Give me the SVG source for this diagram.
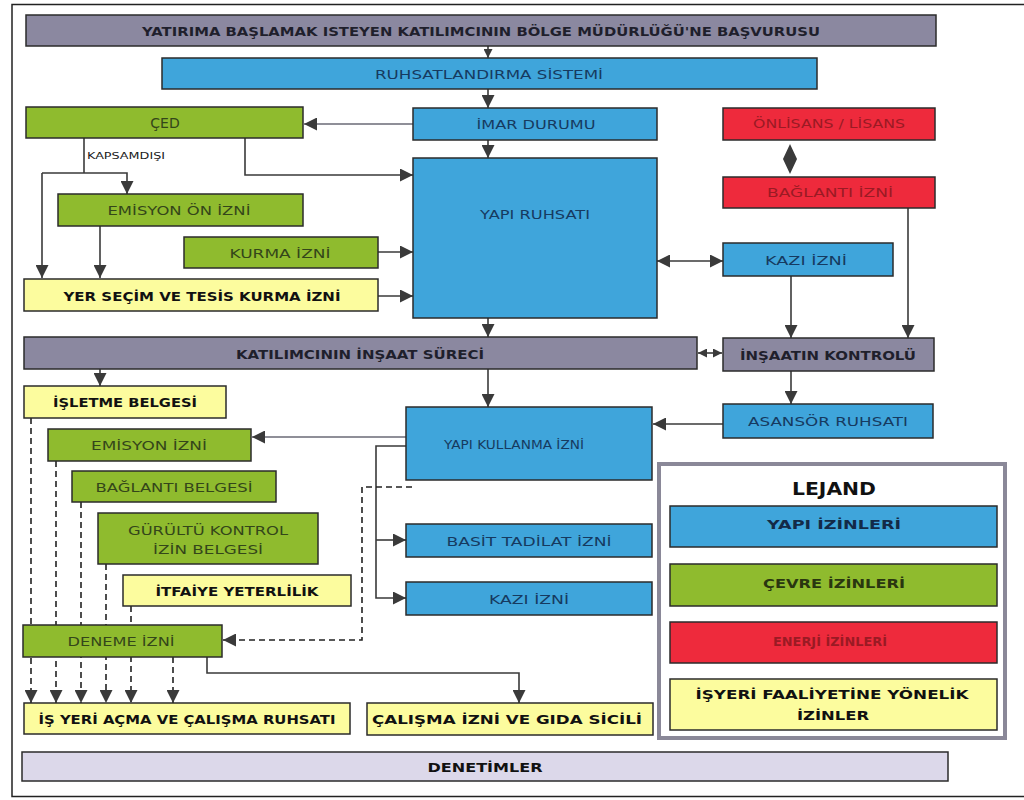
<svg xmlns="http://www.w3.org/2000/svg" width="1024" height="800" viewBox="0 0 1024 800">
<style>
.b{stroke:#2b2b2b;stroke-width:1.5}
.gray{fill:#8b88a0}
.blue{fill:#3fa5db}
.green{fill:#8fbb2e}
.red{fill:#ee2a3c}
.yel{fill:#fcfc9e}
.lav{fill:#dcd8ea}
text{font-family:"DejaVu Sans","Liberation Sans",sans-serif;text-anchor:middle;dominant-baseline:central}
.tg{font-size:12.5px;font-weight:bold;fill:#1f1f2c}
.tb{font-size:12.5px;fill:#163a60}
.tgr{font-size:12.5px;fill:#34461a}
.tr{font-size:12px;fill:#9a1a24}
.ty{font-size:13px;font-weight:bold;fill:#111}
.ln{fill:none;stroke:#3a3a3a;stroke-width:1.6}
.lg{fill:none;stroke:#8f8f98;stroke-width:2.2}
.ds{fill:none;stroke:#222;stroke-width:1.6;stroke-dasharray:6,4}
</style>
<defs>
<marker id="ah" viewBox="0 0 10 10" refX="10" refY="5" markerWidth="13" markerHeight="13" markerUnits="userSpaceOnUse" orient="auto-start-reverse"><path d="M0,0 L10,5 L0,10 z" fill="#3a3a3a"/></marker>
<marker id="as" viewBox="0 0 10 10" refX="10" refY="5" markerWidth="9" markerHeight="9" markerUnits="userSpaceOnUse" orient="auto-start-reverse"><path d="M0,0 L10,5 L0,10 z" fill="#3a3a3a"/></marker>
</defs>
<rect x="0" y="0" width="1024" height="800" fill="#fff"/>
<rect x="12" y="4.5" width="1030" height="792" fill="none" stroke="#222" stroke-width="1.5"/>

<g id="connectors">
<path class="ln" d="M488,46 V58" marker-end="url(#as)"/>
<path class="ln" d="M488,89 V108" marker-end="url(#ah)"/>
<path class="lg" d="M413,124 H304" marker-end="url(#ah)"/>
<path class="ln" d="M488,140 V158" marker-end="url(#ah)"/>
<path class="ln" d="M245,138 V175 H413" marker-end="url(#ah)"/>
<path class="ln" d="M84,138 V173"/>
<path class="ln" d="M42,173 H127 V194" marker-end="url(#ah)"/>
<path class="ln" d="M42,173 V278" marker-end="url(#ah)"/>
<path class="ln" d="M100,226 V278" marker-end="url(#ah)"/>
<path class="ln" d="M378,252 H413" marker-end="url(#ah)"/>
<path class="ln" d="M378,296 H413" marker-end="url(#ah)"/>
<path class="ln" d="M657,261 H723" marker-start="url(#ah)" marker-end="url(#ah)"/>
<path class="ln" d="M791,276 V338" marker-end="url(#ah)"/>
<path class="ln" d="M908,208 V338" marker-end="url(#ah)"/>
<polygon points="790,144 797,159 790,174 783,159" fill="#3a3a3a"/>
<path class="ln" d="M488,318 V337" marker-end="url(#ah)"/>
<path class="ln" d="M698,353 H722" marker-start="url(#as)" marker-end="url(#as)"/>
<path class="ln" d="M100,369 V386" marker-end="url(#ah)"/>
<path class="ln" d="M488,369 V407" marker-end="url(#ah)"/>
<path class="ln" d="M791,371 V404" marker-end="url(#ah)"/>
<path class="ln" d="M723,424 H653" marker-end="url(#ah)"/>
<path class="lg" d="M406,437 H252" marker-end="url(#ah)"/>
<path class="ln" d="M406,446 H376 V598 H406" marker-end="url(#ah)"/>
<path class="ln" d="M376,540 H406" marker-end="url(#ah)"/>
<path class="ds" d="M412,487 H362 V640 H223" marker-end="url(#ah)"/>
<path class="ds" d="M31,418 V703" marker-end="url(#ah)"/>
<path class="ds" d="M56,461 V703" marker-end="url(#ah)"/>
<path class="ds" d="M81,502 V703" marker-end="url(#ah)"/>
<path class="ds" d="M106,564 V703" marker-end="url(#ah)"/>
<path class="ds" d="M131,606 V703" marker-end="url(#ah)"/>
<path class="ds" d="M173,657 V703" marker-end="url(#ah)"/>
<path class="ln" d="M207,657 V673 H519 V703" marker-end="url(#ah)"/>
</g>

<g id="basvuru"><rect class="gray b" x="26" y="15" width="910" height="31"/><text class="tg" x="481" y="31" textLength="678" lengthAdjust="spacingAndGlyphs">YATIRIMA BAŞLAMAK ISTEYEN KATILIMCININ BÖLGE MÜDÜRLÜĞÜ'NE BAŞVURUSU</text></g>
<g id="ruhsatlandirma"><rect class="blue b" x="162" y="58" width="655" height="31"/><text class="tb" x="489" y="74" textLength="228" lengthAdjust="spacingAndGlyphs">RUHSATLANDIRMA SİSTEMİ</text></g>
<g id="ced"><rect class="green b" x="26" y="107" width="277" height="31"/><text class="tgr" x="165" y="123" style="font-size:14px">ÇED</text><text x="126" y="156" style="font-size:9px;fill:#1a1a1a" textLength="78" lengthAdjust="spacingAndGlyphs">KAPSAMDIŞI</text></g>
<g id="imar"><rect class="blue b" x="413" y="108" width="244" height="32"/><text class="tb" x="536" y="124" textLength="119" lengthAdjust="spacingAndGlyphs">İMAR DURUMU</text></g>
<g id="enerji1"><rect class="red b" x="723" y="108" width="212" height="32"/><text class="tr" x="829" y="124" textLength="152" lengthAdjust="spacingAndGlyphs">ÖNLİSANS / LİSANS</text></g>
<g id="enerji2"><rect class="red b" x="723" y="177" width="212" height="31"/><text class="tr" x="830" y="193" textLength="126" lengthAdjust="spacingAndGlyphs">BAĞLANTI İZNİ</text></g>
<g id="yapiruhsati"><rect class="blue b" x="413" y="158" width="244" height="160"/><text class="tb" x="535" y="214" textLength="110" lengthAdjust="spacingAndGlyphs">YAPI RUHSATI</text></g>
<g id="emisyonon"><rect class="green b" x="58" y="194" width="245" height="32"/><text class="tgr" x="179" y="210" textLength="143" lengthAdjust="spacingAndGlyphs">EMİSYON ÖN İZNİ</text></g>
<g id="kurma"><rect class="green b" x="184" y="237" width="194" height="31"/><text class="tgr" x="280" y="253" textLength="101" lengthAdjust="spacingAndGlyphs">KURMA İZNİ</text></g>
<g id="yersecim"><rect class="yel b" x="24" y="279" width="354" height="32"/><text class="ty" x="202" y="296" textLength="277" lengthAdjust="spacingAndGlyphs">YER SEÇİM VE TESİS KURMA İZNİ</text></g>
<g id="kazi1"><rect class="blue b" x="723" y="243" width="170" height="33"/><text class="tb" x="806" y="260" textLength="82" lengthAdjust="spacingAndGlyphs">KAZI İZNİ</text></g>
<g id="insaatsureci"><rect class="gray b" x="24" y="337" width="673" height="32"/><text class="tg" x="360" y="354" textLength="248" lengthAdjust="spacingAndGlyphs">KATILIMCININ İNŞAAT SÜRECİ</text></g>
<g id="insaatkontrol"><rect class="gray b" x="723" y="338" width="211" height="33"/><text class="tg" x="828" y="355" textLength="176" lengthAdjust="spacingAndGlyphs">İNŞAATIN KONTROLÜ</text></g>
<g id="isletme"><rect class="yel b" x="24" y="386" width="202" height="32"/><text class="ty" x="125" y="402" textLength="144" lengthAdjust="spacingAndGlyphs">İŞLETME BELGESİ</text></g>
<g id="emisyon"><rect class="green b" x="48" y="429" width="203" height="32"/><text class="tgr" x="149" y="445" textLength="116" lengthAdjust="spacingAndGlyphs">EMİSYON İZNİ</text></g>
<g id="baglanti"><rect class="green b" x="72" y="471" width="204" height="31"/><text class="tgr" x="174" y="487" textLength="157" lengthAdjust="spacingAndGlyphs">BAĞLANTI BELGESİ</text></g>
<g id="gurultu"><rect class="green b" x="98" y="513" width="220" height="51"/><text class="tgr" x="208" y="530" textLength="160" lengthAdjust="spacingAndGlyphs">GÜRÜLTÜ KONTROL</text><text class="tgr" x="208" y="549" textLength="110" lengthAdjust="spacingAndGlyphs">İZİN BELGESİ</text></g>
<g id="itfaiye"><rect class="yel b" x="123" y="575" width="228" height="31"/><text class="ty" x="237" y="591" textLength="163" lengthAdjust="spacingAndGlyphs">İTFAİYE YETERLİLİK</text></g>
<g id="yapikullanma"><rect class="blue b" x="406" y="407" width="246" height="73"/><text class="tb" x="514" y="444" textLength="140" lengthAdjust="spacingAndGlyphs">YAPI KULLANMA İZNİ</text></g>
<g id="asansor"><rect class="blue b" x="723" y="404" width="210" height="34"/><text class="tb" x="828" y="421" textLength="160" lengthAdjust="spacingAndGlyphs">ASANSÖR RUHSATI</text></g>
<g id="basit"><rect class="blue b" x="406" y="524" width="246" height="33"/><text class="tb" x="529" y="541" textLength="165" lengthAdjust="spacingAndGlyphs">BASİT TADİLAT İZNİ</text></g>
<g id="kazi2"><rect class="blue b" x="406" y="582" width="246" height="33"/><text class="tb" x="529" y="599" textLength="80" lengthAdjust="spacingAndGlyphs">KAZI İZNİ</text></g>
<g id="deneme"><rect class="green b" x="23" y="625" width="199" height="32"/><text class="tgr" x="121" y="641" textLength="107" lengthAdjust="spacingAndGlyphs">DENEME İZNİ</text></g>
<g id="isyeri"><rect class="yel b" x="24" y="703" width="326" height="31"/><text class="ty" x="187" y="719" textLength="297" lengthAdjust="spacingAndGlyphs">İŞ YERİ AÇMA VE ÇALIŞMA RUHSATI</text></g>
<g id="calisma"><rect class="yel b" x="367" y="703" width="286" height="32"/><text class="ty" x="507" y="719" textLength="270" lengthAdjust="spacingAndGlyphs">ÇALIŞMA İZNİ VE GIDA SİCİLİ</text></g>
<g id="denetimler"><rect class="lav b" x="22" y="752" width="926" height="29"/><text class="ty" x="485" y="767" textLength="115" lengthAdjust="spacingAndGlyphs">DENETİMLER</text></g>

<g id="lejand">
<rect x="659" y="464" width="346" height="274" fill="#fff" stroke="#8a8898" stroke-width="4"/>
<text x="834" y="488" style="font-size:18px;font-weight:bold;fill:#111" textLength="84" lengthAdjust="spacingAndGlyphs">LEJAND</text>
<rect class="blue b" x="670" y="506" width="327" height="41"/><text class="ty" x="834" y="524" style="fill:#132a48" textLength="134" lengthAdjust="spacingAndGlyphs">YAPI İZİNLERİ</text>
<rect class="green b" x="670" y="564" width="327" height="42"/><text class="ty" x="834" y="583" style="fill:#2a3610" textLength="142" lengthAdjust="spacingAndGlyphs">ÇEVRE İZİNLERİ</text>
<rect class="red b" x="670" y="622" width="327" height="41"/><text class="tr" x="830" y="642" style="font-weight:bold" textLength="114" lengthAdjust="spacingAndGlyphs">ENERJİ İZİNLERİ</text>
<rect class="yel b" x="670" y="679" width="327" height="51"/><text class="ty" x="832" y="694" textLength="273" lengthAdjust="spacingAndGlyphs">İŞYERİ FAALİYETİNE YÖNELİK</text><text class="ty" x="833" y="715" textLength="72" lengthAdjust="spacingAndGlyphs">İZİNLER</text>
</g>
</svg>
